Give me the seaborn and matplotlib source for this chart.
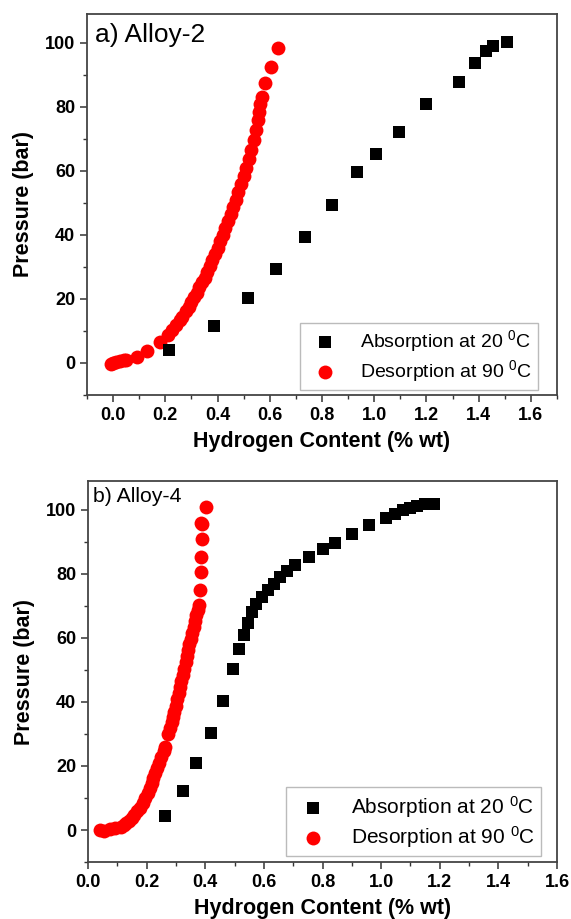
import matplotlib
matplotlib.use("Agg")
from matplotlib import pyplot as plt
from matplotlib.ticker import MultipleLocator
import seaborn as sns

# a) Alloy-2
abs2_x = [0.215, 0.385, 0.515, 0.625, 0.735, 0.84, 0.935, 1.005, 1.095, 1.2,
          1.325, 1.385, 1.43, 1.455, 1.51]
abs2_y = [3.9, 11.5, 20.3, 29.5, 39.2, 49.3, 59.5, 65.4, 72.2, 81.0,
          87.6, 93.8, 97.3, 99.0, 100.4]

des2_x = [-0.01, 0.0, 0.01, 0.025, 0.04, 0.05, 0.09, 0.13, 0.18, 0.21,
          0.225, 0.24, 0.255, 0.265, 0.28, 0.29, 0.30, 0.31, 0.32, 0.33,
          0.34, 0.35, 0.36, 0.37, 0.38, 0.39, 0.40, 0.41, 0.42, 0.43,
          0.44, 0.45, 0.46, 0.47, 0.48, 0.49, 0.50, 0.51, 0.52, 0.53,
          0.54, 0.548, 0.553, 0.558, 0.563, 0.57, 0.58, 0.603, 0.63]
des2_y = [-0.3, 0.0, 0.3, 0.5, 0.8, 1.0, 2.0, 3.6, 6.5, 8.8,
          10.2, 11.8, 13.3, 14.5, 16.2, 17.6, 19.0, 20.5, 22.0, 23.6,
          25.2, 26.6, 28.5, 30.2, 32.2, 34.0, 36.0, 38.0, 40.0, 42.2,
          44.3, 46.5, 48.6, 51.0, 53.3, 55.8, 58.3, 61.0, 63.8, 66.5,
          69.5, 72.8, 76.0, 78.5, 81.0, 83.0, 87.3, 92.5, 98.4]

# b) Alloy-4
abs4_x = [0.263, 0.323, 0.37, 0.418, 0.462, 0.493, 0.515, 0.531, 0.546, 0.558,
          0.574, 0.593, 0.614, 0.633, 0.655, 0.679, 0.707, 0.753, 0.8, 0.841,
          0.9, 0.959, 1.015, 1.048, 1.073, 1.098, 1.123, 1.148, 1.179]
abs4_y = [4.5, 12.1, 21.0, 30.4, 40.2, 50.2, 56.5, 60.9, 64.8, 68.0,
          70.6, 72.9, 75.0, 76.8, 79.0, 80.8, 82.7, 85.2, 87.8, 89.7,
          92.5, 95.2, 97.6, 98.8, 99.9, 100.7, 101.3, 101.8, 101.8]

des4_x = [0.04, 0.056, 0.074, 0.093, 0.112, 0.122, 0.13, 0.14, 0.149, 0.158,
          0.167, 0.176, 0.186, 0.195, 0.205, 0.211, 0.217, 0.223, 0.23, 0.236,
          0.242, 0.25, 0.258, 0.262, 0.273, 0.279, 0.285, 0.29, 0.295, 0.3,
          0.304, 0.309, 0.313, 0.318, 0.323, 0.328, 0.333, 0.337, 0.341, 0.346,
          0.35, 0.355, 0.36, 0.365, 0.37, 0.374, 0.378, 0.382, 0.384, 0.386,
          0.388, 0.39, 0.386, 0.403]
des4_y = [0.0, -0.2, 0.2, 0.5, 1.0, 1.5, 2.1, 2.9, 3.7, 4.7,
          5.8, 7.0, 8.4, 9.9, 11.5, 13.1, 14.7, 16.2, 17.8, 19.4,
          21.0, 22.8, 24.7, 25.8, 29.9, 31.8, 33.6, 35.2, 36.7, 38.8,
          40.9, 42.8, 44.6, 46.5, 48.3, 50.4, 52.5, 54.3, 56.1, 58.0,
          59.8, 61.6, 63.5, 65.4, 67.2, 68.8, 70.3, 75.0, 80.5, 85.3,
          91.0, 95.7, 95.9, 101.0]

x_ticks = [0.0, 0.2, 0.4, 0.6, 0.8, 1.0, 1.2, 1.4, 1.6]
y_ticks = [0, 20, 40, 60, 80, 100]

lab_abs = "Absorption at 20 $^{0}$C"
lab_des = "Desorption at 90 $^{0}$C"

sns.set_style("ticks")
plt.rcParams['font.family'] = ['Liberation Sans', 'DejaVu Sans']
plt.rcParams['mathtext.default'] = 'regular'
plt.rcParams['text.color'] = 'black'
plt.rcParams['axes.labelcolor'] = 'black'
plt.rcParams['xtick.labelcolor'] = 'black'
plt.rcParams['ytick.labelcolor'] = 'black'

fig = plt.figure(figsize=(5.71, 9.19), dpi=100)
ax1 = fig.add_axes([0.1524, 0.5702, 0.823, 0.4146])
ax2 = fig.add_axes([0.1541, 0.0620, 0.8214, 0.4146])

panels = [
    (ax1, abs2_x, abs2_y, des2_x, des2_y, "a) Alloy-2", 19, (-0.1, 1.7), 14,
     (0.96, 0.013), (0.017, 0.975)),
    (ax2, abs4_x, abs4_y, des4_x, des4_y, "b) Alloy-4", 15.3, (0.0, 1.6), 15,
     (0.966, 0.016), (0.011, 0.985)),
]

for ax, ax_x, ax_y, dx, dy, title, tsize, xlim, lsize, lpos, tpos in panels:
    sns.scatterplot(x=ax_x, y=ax_y, marker='s', color='black', s=85,
                    linewidth=0, ax=ax, label=lab_abs, zorder=3)
    sns.scatterplot(x=dx, y=dy, marker='o', color='#ff0000', s=100,
                    linewidth=0, ax=ax, label=lab_des, zorder=2)
    ax.set_xlim(*xlim)
    ax.set_ylim(-10, 109)
    ax.set_xticks(x_ticks)
    ax.set_yticks(y_ticks)
    ax.xaxis.set_minor_locator(MultipleLocator(0.1))
    ax.yaxis.set_minor_locator(MultipleLocator(10))
    ax.set_xticklabels([f"{v:.1f}" for v in x_ticks], fontweight='bold', fontsize=13)
    ax.set_yticklabels([str(v) for v in y_ticks], fontweight='bold', fontsize=13)
    ax.tick_params(which='major', direction='out', length=5, width=1.1,
                   color='#333333', labelcolor='black')
    ax.tick_params(which='minor', direction='out', length=3, width=1.0, color='#333333')
    for sp in ax.spines.values():
        sp.set_visible(True)
        sp.set_linewidth(1.3)
        sp.set_color('#444444')
    ax.set_xlabel("Hydrogen Content (% wt)", fontsize=15.5, fontweight='bold',
                  labelpad=5, color='black')
    ax.set_ylabel("Pressure (bar)", fontsize=15.5, fontweight='bold',
                  labelpad=8, color='black')
    ax.text(tpos[0], tpos[1], title, transform=ax.transAxes, fontsize=tsize,
            ha='left', va='top', color='black')
    leg = ax.legend(loc='lower right', bbox_to_anchor=lpos, borderaxespad=0,
                    fontsize=lsize, frameon=True, fancybox=False,
                    edgecolor='#bbbbbb', framealpha=1, labelspacing=0.2,
                    borderpad=0.3)
    leg.get_frame().set_linewidth(1.0)
    for t in leg.get_texts():
        t.set_color('black')

fig.savefig("out.png", dpi=100)
